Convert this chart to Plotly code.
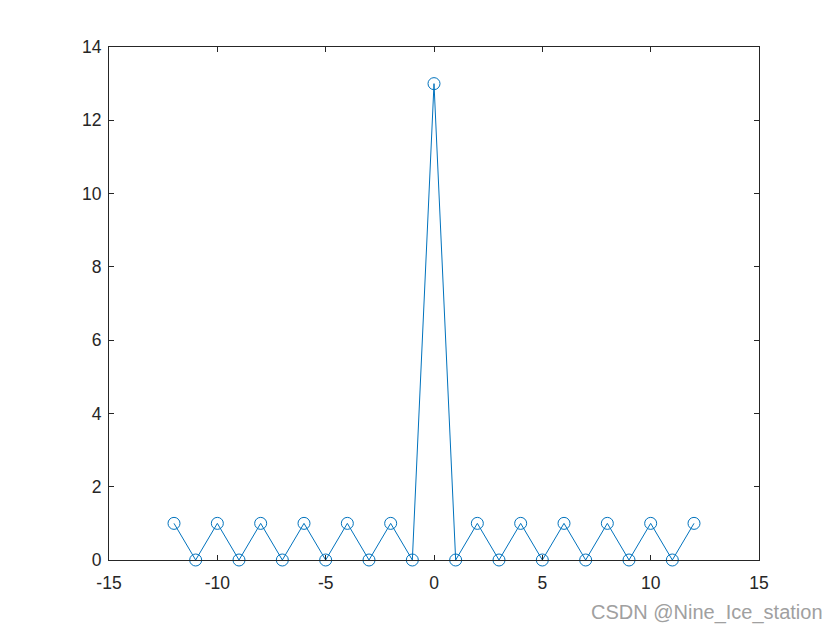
import plotly.graph_objects as go

x_vals = list(range(-12, 13))
y_vals = [1, 0, 1, 0, 1, 0, 1, 0, 1, 0, 1, 0, 13, 0, 1, 0, 1, 0, 1, 0, 1, 0, 1, 0, 1]
x_ticks = [-15, -10, -5, 0, 5, 10, 15]
y_ticks = [0, 2, 4, 6, 8, 10, 12, 14]

color = "#0072BD"
fig = go.Figure()
fig.add_trace(go.Scatter(
    x=x_vals, y=y_vals, mode="lines+markers",
    line=dict(color=color, width=1),
    marker=dict(symbol="circle-open", size=12, color=color, line=dict(width=1, color=color)),
    cliponaxis=False,
))

axis_common = dict(
    showgrid=False, zeroline=False, showline=True, linecolor="#262626", linewidth=1,
    mirror="ticks", ticks="inside", ticklen=5, tickcolor="#262626",
    tickfont=dict(family="Liberation Sans, Arial", size=17.5, color="#262626"),
)
fig.update_xaxes(range=[-15, 15], tickvals=x_ticks, ticktext=[str(v) for v in x_ticks],
                 ticklabelstandoff=7, **axis_common)
fig.update_yaxes(range=[0, 14], tickvals=y_ticks, ticktext=[str(v) for v in y_ticks],
                 ticklabelstandoff=3, **axis_common)

fig.add_annotation(
    text="CSDN @Nine_Ice_station", xref="paper", yref="paper",
    x=1.0 + 66/650, y=-52/513, xanchor="right", yanchor="middle", showarrow=False,
    font=dict(family="Liberation Sans, Arial", size=20, color="#A0A0A0"),
)

fig.update_layout(
    width=832, height=622,
    margin=dict(l=101, r=81, t=39, b=70),
    paper_bgcolor="white", plot_bgcolor="white",
    showlegend=False,
)
fig.write_html("out.html")
